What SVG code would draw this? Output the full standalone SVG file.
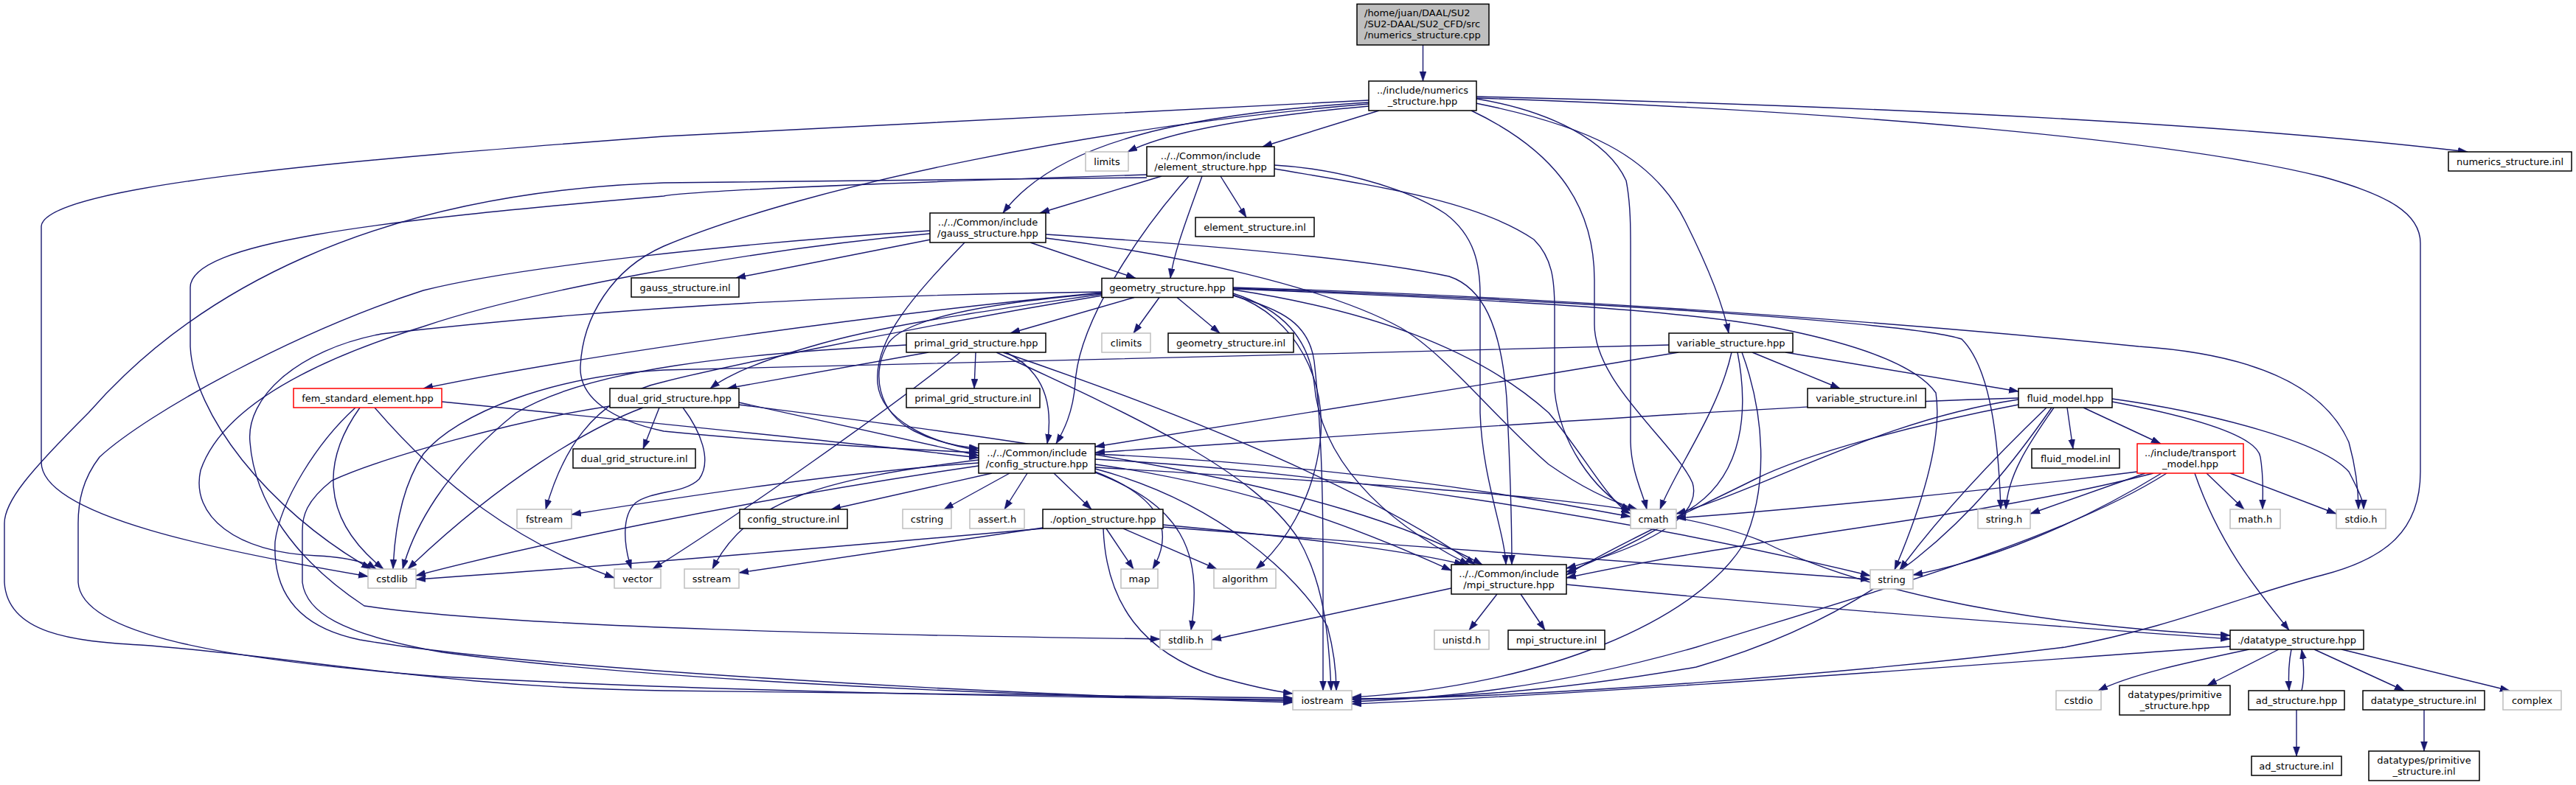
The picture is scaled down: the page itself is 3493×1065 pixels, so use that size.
<svg xmlns="http://www.w3.org/2000/svg" width="3493" height="1065" viewBox="0 0 3493 1065">
<style>
text{font-family:"DejaVu Sans","Liberation Sans",sans-serif;font-size:13px;fill:#000;text-anchor:middle}
.n rect{fill:#fff;stroke:#000;stroke-width:1.5}
.g rect{fill:#fff;stroke:#bfbfbf;stroke-width:1.5}
.r rect{fill:#fff;stroke:#ff0000;stroke-width:1.5}
#edges path{fill:none;stroke:#191970;stroke-width:1.4;marker-end:url(#a)}
</style>
<defs>
<marker id="a" markerUnits="userSpaceOnUse" markerWidth="14" markerHeight="10" refX="13" refY="4.5" orient="auto"><path d="M0,0 L13,4.5 L0,9 z" fill="#191970" stroke="#191970" stroke-width="0.5"/></marker>
</defs>
<rect width="3493" height="1065" fill="#fff"/>
<g id="edges">
<path d="M1929.5,61 L1929.5,110"/>
<path d="M1856,144 C1700,158 1585,178 1529,206"/>
<path d="M1870,150 L1712,199"/>
<path d="M1856,139 C1600,155 1430,195 1360,289"/>
<path d="M1856,141 C1500,170 1100,250 900,334 C830,365 790,430 787,497 C785,540 830,570 900,585 C1050,600 1200,608 1327,614"/>
<path d="M1995,150 C2100,200 2162,270 2162,380 L2162,440 C2162,520 2270,600 2295,655 C2310,705 2220,745 2124,771"/>
<path d="M2002,134 C2100,150 2180,190 2205,245 C2212,280 2211,320 2211,360 L2211,600 C2212,640 2228,670 2233,691"/>
<path d="M2001,140 C2150,170 2240,210 2285,300 C2320,370 2338,420 2344,452"/>
<path d="M2002,131 C2500,143 3000,165 3346,206"/>
<path d="M2002,133 C2500,150 2950,190 3150,240 C3240,265 3282,290 3282,330 L3282,640 C3282,720 3235,758 3150,780 C3040,808 2950,850 2800,878 C2500,915 2100,945 1833,949"/>
<path d="M1856,136 C1400,158 1000,178 900,185 C500,215 60,250 56,307 L56,627 C56,700 300,748 499,782"/>
<path d="M1575,239 L1410,289"/>
<path d="M1655,239 L1690,295"/>
<path d="M1630,239 C1612,290 1592,340 1587,377.5"/>
<path d="M1612,239 C1540,320 1462,440 1458,520 C1455,560 1442,585 1432,602"/>
<path d="M1728,224 C1800,228 1900,250 1960,290 C2000,320 2007,360 2007,400 L2007,560 C2010,650 2040,720 2042,766"/>
<path d="M1728,229 C1850,250 2000,270 2080,325 C2105,350 2108,380 2108,420 L2108,530 C2115,600 2160,665 2211,693"/>
<path d="M1555,237 C1300,245 950,257 900,266 C500,300 258,330 258,390 L258,470 C262,560 360,690 503,772"/>
<path d="M1555,241 C1300,244 950,246 900,248 C500,262 260,400 120,560 C40,640 6,680 6,710 L6,790 C10,860 100,870 190,875 C400,890 600,933 900,937 C1300,944 1600,946 1753,947"/>
<path d="M1262,325 L998,377"/>
<path d="M1397,329 L1540,377.5"/>
<path d="M1308,329 C1240,400 1185,460 1190,520 C1195,570 1260,600 1327,611"/>
<path d="M1418,318 C1600,330 1850,350 1965,375 C2010,390 2035,440 2043,540 C2048,640 2050,720 2050,766"/>
<path d="M1418,323 C1600,345 1800,390 1900,445 C1960,480 2030,570 2100,630 C2150,665 2190,682 2220,691"/>
<path d="M1261,317 C1000,340 700,400 574,443 C400,497 298,562 272,638 C258,700 320,750 430,754 C470,756 495,762 510,772"/>
<path d="M1261,313 C1000,330 700,362 574,394 C400,450 200,560 135,620 C112,650 106,680 106,710 L106,790 C110,860 300,895 600,918 C1000,940 1500,947 1753,949"/>
<path d="M1538,403.5 L1370,452"/>
<path d="M1572,403.5 L1537,452"/>
<path d="M1596,403.5 L1654,452"/>
<path d="M1494,399 C1350,420 1200,440 1100,470 C1030,490 985,510 963,527"/>
<path d="M1494,397 C1200,425 800,480 574,527"/>
<path d="M1494,398 C1350,410 1230,430 1205,465 C1180,505 1190,560 1240,585 C1270,600 1300,606 1327,608"/>
<path d="M1672,398 C1740,420 1775,460 1782,520 C1790,620 1870,705 1992,766"/>
<path d="M1672,393 C1850,420 2000,470 2100,560 C2150,620 2180,680 2211,697"/>
<path d="M1672,392 C2000,405 2300,420 2428,449 C2555,476 2606,506 2625,533 C2635,600 2600,700 2569,773"/>
<path d="M1672,391 C2200,410 2600,440 2660,460 C2700,500 2710,600 2713,691"/>
<path d="M1672,390 C2200,405 2700,450 2900,470 C3050,480 3150,520 3185,600 C3196,640 3198,670 3198,691"/>
<path d="M1672,400 C1760,430 1800,520 1790,600 C1780,680 1740,740 1703,772"/>
<path d="M1494,401 C1200,450 950,505 900,518 C800,540 760,620 740,691"/>
<path d="M1494,396 C1200,400 900,410 517,453 C402,475 333,540 339,600 C345,680 400,760 494,822 C700,852 1200,862 1573,867"/>
<path d="M1672,401 C1740,420 1775,440 1782,490 C1790,560 1794,650 1794,760 L1794,937"/>
<path d="M1323,478 L1321,527"/>
<path d="M1259,478 L986,527"/>
<path d="M1364,478 C1410,500 1430,540 1420,602"/>
<path d="M1360,478 C1600,560 1850,660 2000,766"/>
<path d="M1351,478 C1550,570 1700,640 1760,730 C1795,790 1802,860 1805,937"/>
<path d="M1229,468 C1000,480 800,500 700,560 C600,640 560,720 546,772"/>
<path d="M1302,478 C1200,560 1000,700 885,772"/>
<path d="M894,553 L872,609"/>
<path d="M1002,546 L1327,618"/>
<path d="M1002,549 C1400,600 1800,650 2010,766"/>
<path d="M872,553 C800,580 680,650 553,772"/>
<path d="M827,551 C700,570 520,620 450,652 C415,680 410,700 410,720 L410,790 C415,830 460,860 600,885 C900,925 1400,945 1753,951"/>
<path d="M926,553 C950,585 966,625 948,650 C928,670 885,665 862,682 C842,700 846,740 856,772"/>
<path d="M599,545 C900,575 1150,600 1327,621"/>
<path d="M488,553 C440,620 430,700 520,772"/>
<path d="M508,553 C600,660 700,735 833,784"/>
<path d="M482,553 C430,600 380,680 373,735 C370,800 400,850 488,868 C700,905 1300,940 1753,953"/>
<path d="M1345,642 L1127,691"/>
<path d="M1369,642 L1280,691"/>
<path d="M1393,642 L1362,691"/>
<path d="M1429,642 L1480,691"/>
<path d="M1485,640 C1575,675 1593,720 1563,772"/>
<path d="M1485,641 C1600,685 1632,745 1615,855"/>
<path d="M1327,624 C1110,650 1012,680 966,772"/>
<path d="M1327,628 C1150,640 950,670 775,698"/>
<path d="M1327,632 C1000,680 700,745 564,781"/>
<path d="M1485,623 C1800,640 2200,700 2536,781"/>
<path d="M1485,630 C1700,660 1850,720 1968,774"/>
<path d="M1485,616 C1800,630 2050,670 2211,701"/>
<path d="M1485,636 C1650,680 1760,780 1800,850 C1808,880 1812,910 1812,937"/>
<path d="M1485,634 C1900,660 2250,675 2391,735 C2500,790 2700,845 3024,862"/>
<path d="M1500,717 L1537,772"/>
<path d="M1523,717 L1650,772"/>
<path d="M1496,717 C1500,820 1550,885 1650,918 C1700,932 1730,938 1753,941"/>
<path d="M1577,712 C1750,728 1900,745 1985,766"/>
<path d="M1577,715 C1900,740 2300,770 2536,786"/>
<path d="M1414,716 L1002,777"/>
<path d="M1414,717 C1100,745 800,770 564,786"/>
<path d="M2030,806 L1992,855"/>
<path d="M2062,806 L2095,855"/>
<path d="M1968,798 L1643,868"/>
<path d="M2124,793 C2500,830 2800,850 3024,867"/>
<path d="M2376,478 L2495,527"/>
<path d="M2421,478 L2737,531"/>
<path d="M2276,478 C2000,525 1700,570 1485,606"/>
<path d="M2348,478 C2330,560 2270,640 2251,691"/>
<path d="M2356,478 C2372,560 2362,640 2300,685 C2240,725 2180,755 2124,776"/>
<path d="M2362,478 C2392,560 2400,660 2363,740 C2300,840 2100,930 1833,946"/>
<path d="M2263,468 C1800,480 1200,495 900,502 C750,510 620,560 574,616 C545,660 535,720 533,772"/>
<path d="M2803,553 L2811,609"/>
<path d="M2825,553 L2930,602"/>
<path d="M2785,553 C2760,590 2722,640 2720,691"/>
<path d="M2775,553 C2700,625 2630,700 2576,773"/>
<path d="M2864,545 C2970,565 3060,590 3065,620 C3070,650 3068,670 3068,691"/>
<path d="M2864,541 C3000,560 3150,600 3185,640 C3198,665 3205,680 3205,691"/>
<path d="M2737,549 C2600,575 2450,615 2380,650 C2300,690 2200,735 2124,780"/>
<path d="M2737,542 C2550,570 2400,660 2273,697"/>
<path d="M2782,553 C2680,700 2560,830 2300,905 C2100,940 1950,948 1833,948"/>
<path d="M2737,540 C2400,550 2000,580 1485,614"/>
<path d="M2992,642 L3043,691"/>
<path d="M3024,642 L3168,697"/>
<path d="M2909,642 L2753,697"/>
<path d="M2931,642 C2820,710 2700,760 2594,780"/>
<path d="M2976,642 C3010,740 3060,800 3104,855"/>
<path d="M2898,640 C2700,665 2450,690 2273,703"/>
<path d="M2938,642 C2800,730 2550,800 2300,878 C2100,935 1950,947 1833,952"/>
<path d="M2920,642 C2700,700 2400,725 2124,784"/>
<path d="M3050,881 C2960,900 2890,915 2845,937"/>
<path d="M3090,881 L2993,930"/>
<path d="M3107,881 C3103,900 3103,920 3104,937"/>
<path d="M3121,937 C3125,920 3124,900 3121,881"/>
<path d="M3138,881 L3260,937"/>
<path d="M3175,881 L3403,937"/>
<path d="M3024,877 C2700,900 2200,940 1833,955"/>
<path d="M3114,963 L3114,1026"/>
<path d="M3287,963 L3287,1019"/>
</g>
<g id="root" class="n"><rect x="1840" y="5.5" width="179" height="55.5" style="fill:#bfbfbf"/><text x="1850" y="22" style="text-anchor:start">/home/juan/DAAL/SU2</text><text x="1850" y="37" style="text-anchor:start">/SU2-DAAL/SU2_CFD/src</text><text x="1850" y="52" style="text-anchor:start">/numerics_structure.cpp</text></g>
<g id="numerics_hpp" class="n"><rect x="1856" y="110" width="146" height="40"/><text x="1929" y="126.5">../include/numerics</text><text x="1929" y="141.5">_structure.hpp</text></g>
<g id="limits" class="g"><rect x="1472" y="206" width="58" height="26"/><text x="1501" y="223.5">limits</text></g>
<g id="element_hpp" class="n"><rect x="1555" y="199" width="173" height="40"/><text x="1641.5" y="215.5">../../Common/include</text><text x="1641.5" y="230.5">/element_structure.hpp</text></g>
<g id="numerics_inl" class="n"><rect x="3320" y="206" width="167" height="26"/><text x="3403.5" y="223.5">numerics_structure.inl</text></g>
<g id="gauss_hpp" class="n"><rect x="1261" y="289" width="157" height="40"/><text x="1339.5" y="305.5">../../Common/include</text><text x="1339.5" y="320.5">/gauss_structure.hpp</text></g>
<g id="element_inl" class="n"><rect x="1621" y="295" width="161" height="26"/><text x="1701.5" y="312.5">element_structure.inl</text></g>
<g id="gauss_inl" class="n"><rect x="856" y="377" width="146" height="26"/><text x="929" y="394.5">gauss_structure.inl</text></g>
<g id="geometry_hpp" class="n"><rect x="1494" y="377.5" width="178" height="26"/><text x="1583" y="395">geometry_structure.hpp</text></g>
<g id="variable_hpp" class="n"><rect x="2263" y="452" width="168" height="26"/><text x="2347" y="469.5">variable_structure.hpp</text></g>
<g id="primal_hpp" class="n"><rect x="1229" y="452" width="189" height="26"/><text x="1323.5" y="469.5">primal_grid_structure.hpp</text></g>
<g id="climits" class="g"><rect x="1494" y="452" width="66" height="26"/><text x="1527" y="469.5">climits</text></g>
<g id="geometry_inl" class="n"><rect x="1584" y="452" width="170" height="26"/><text x="1669" y="469.5">geometry_structure.inl</text></g>
<g id="fem_hpp" class="r"><rect x="398" y="527" width="201" height="26"/><text x="498.5" y="544.5">fem_standard_element.hpp</text></g>
<g id="dual_hpp" class="n"><rect x="827" y="527" width="175" height="26"/><text x="914.5" y="544.5">dual_grid_structure.hpp</text></g>
<g id="primal_inl" class="n"><rect x="1229" y="527" width="181" height="26"/><text x="1319.5" y="544.5">primal_grid_structure.inl</text></g>
<g id="variable_inl" class="n"><rect x="2451" y="527" width="160" height="26"/><text x="2531" y="544.5">variable_structure.inl</text></g>
<g id="fluid_hpp" class="n"><rect x="2737" y="527" width="127" height="26"/><text x="2800.5" y="544.5">fluid_model.hpp</text></g>
<g id="dual_inl" class="n"><rect x="777" y="609" width="166" height="26"/><text x="860" y="626.5">dual_grid_structure.inl</text></g>
<g id="config_hpp" class="n"><rect x="1327" y="602" width="158" height="40"/><text x="1406" y="618.5">../../Common/include</text><text x="1406" y="633.5">/config_structure.hpp</text></g>
<g id="fluid_inl" class="n"><rect x="2755" y="609" width="119" height="26"/><text x="2814.5" y="626.5">fluid_model.inl</text></g>
<g id="transport_hpp" class="r"><rect x="2898" y="602" width="144" height="40"/><text x="2970" y="618.5">../include/transport</text><text x="2970" y="633.5">_model.hpp</text></g>
<g id="fstream" class="g"><rect x="701" y="691" width="74" height="26"/><text x="738" y="708.5">fstream</text></g>
<g id="config_inl" class="n"><rect x="1003" y="691" width="146" height="26"/><text x="1076" y="708.5">config_structure.inl</text></g>
<g id="cstring" class="g"><rect x="1224" y="691" width="66" height="26"/><text x="1257" y="708.5">cstring</text></g>
<g id="assert_h" class="g"><rect x="1315" y="691" width="74" height="26"/><text x="1352" y="708.5">assert.h</text></g>
<g id="option_hpp" class="n"><rect x="1414" y="691" width="163" height="26"/><text x="1495.5" y="708.5">./option_structure.hpp</text></g>
<g id="cmath" class="g"><rect x="2211" y="691" width="62" height="26"/><text x="2242" y="708.5">cmath</text></g>
<g id="string_h" class="g"><rect x="2682" y="691" width="71" height="26"/><text x="2717.5" y="708.5">string.h</text></g>
<g id="math_h" class="g"><rect x="3024" y="691" width="68" height="26"/><text x="3058" y="708.5">math.h</text></g>
<g id="stdio_h" class="g"><rect x="3168" y="691" width="67" height="26"/><text x="3201.5" y="708.5">stdio.h</text></g>
<g id="cstdlib" class="g"><rect x="499" y="772" width="65" height="26"/><text x="531.5" y="789.5">cstdlib</text></g>
<g id="vector" class="g"><rect x="833" y="772" width="63" height="26"/><text x="864.5" y="789.5">vector</text></g>
<g id="sstream" class="g"><rect x="928" y="772" width="74" height="26"/><text x="965" y="789.5">sstream</text></g>
<g id="map" class="g"><rect x="1520" y="772" width="50" height="26"/><text x="1545" y="789.5">map</text></g>
<g id="algorithm" class="g"><rect x="1646" y="772" width="84" height="26"/><text x="1688" y="789.5">algorithm</text></g>
<g id="mpi_hpp" class="n"><rect x="1968" y="766" width="156" height="40"/><text x="2046" y="782.5">../../Common/include</text><text x="2046" y="797.5">/mpi_structure.hpp</text></g>
<g id="string" class="g"><rect x="2536" y="773" width="58" height="26"/><text x="2565" y="790.5">string</text></g>
<g id="stdlib_h" class="g"><rect x="1573" y="855" width="70" height="26"/><text x="1608" y="872.5">stdlib.h</text></g>
<g id="unistd_h" class="g"><rect x="1945" y="855" width="74" height="26"/><text x="1982" y="872.5">unistd.h</text></g>
<g id="mpi_inl" class="n"><rect x="2045" y="855" width="131" height="26"/><text x="2110.5" y="872.5">mpi_structure.inl</text></g>
<g id="datatype_hpp" class="n"><rect x="3024" y="855" width="181" height="26"/><text x="3114.5" y="872.5">./datatype_structure.hpp</text></g>
<g id="iostream" class="g"><rect x="1753" y="937" width="80" height="26"/><text x="1793" y="954.5">iostream</text></g>
<g id="cstdio" class="g"><rect x="2788" y="937" width="61" height="26"/><text x="2818.5" y="954.5">cstdio</text></g>
<g id="primitive_hpp" class="n"><rect x="2874" y="930" width="150" height="40"/><text x="2949" y="946.5">datatypes/primitive</text><text x="2949" y="961.5">_structure.hpp</text></g>
<g id="ad_hpp" class="n"><rect x="3049" y="937" width="130" height="26"/><text x="3114" y="954.5">ad_structure.hpp</text></g>
<g id="datatype_inl" class="n"><rect x="3204" y="937" width="165" height="26"/><text x="3286.5" y="954.5">datatype_structure.inl</text></g>
<g id="complex" class="g"><rect x="3394" y="937" width="79" height="26"/><text x="3433.5" y="954.5">complex</text></g>
<g id="ad_inl" class="n"><rect x="3053" y="1026" width="122" height="26"/><text x="3114" y="1043.5">ad_structure.inl</text></g>
<g id="primitive_inl" class="n"><rect x="3212" y="1019" width="150" height="40"/><text x="3287" y="1035.5">datatypes/primitive</text><text x="3287" y="1050.5">_structure.inl</text></g>
</svg>
